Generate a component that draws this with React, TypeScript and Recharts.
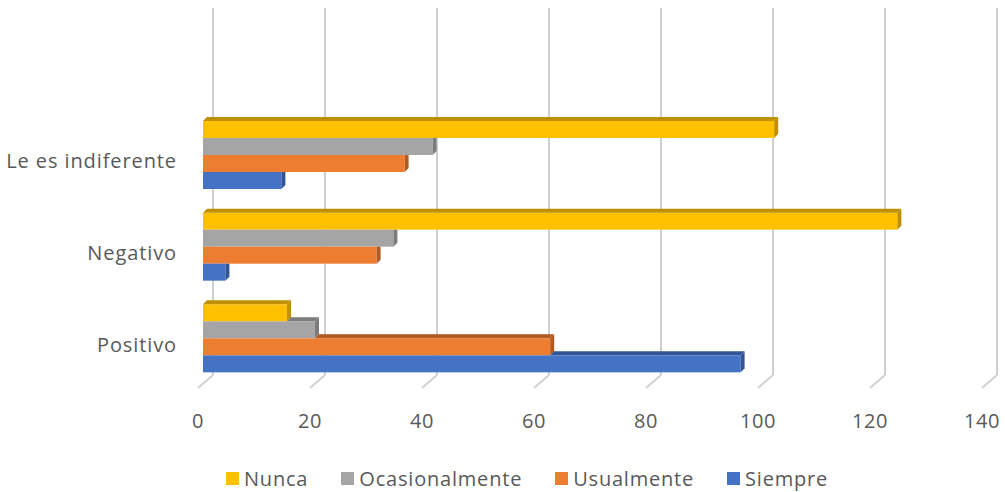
import React from "react";
import { BarChart, Bar, XAxis, YAxis, CartesianGrid } from "recharts";

const categories = ["Le es indiferente", "Negativo", "Positivo"];
const nunca = [102, 124, 15];
const ocasionalmente = [41, 34, 20];
const usualmente = [36, 31, 62];
const siempre = [14, 4, 96];
const xTicks = [0, 20, 40, 60, 80, 100, 120, 140];

const series = [
  { key: "Nunca", values: nunca, color: "#FFC000", dark: "#BF9000" },
  { key: "Ocasionalmente", values: ocasionalmente, color: "#A5A5A5", dark: "#7C7C7C" },
  { key: "Usualmente", values: usualmente, color: "#ED7D31", dark: "#B35A20" },
  { key: "Siempre", values: siempre, color: "#4472C4", dark: "#2F5597" },
];

const data = categories.map((name, i) => {
  const row: Record<string, any> = { name };
  series.forEach((s) => (row[s.key] = s.values[i]));
  return row;
});

// layout numbers
const CHART_W = 1005;
const CHART_H = 452;
const PLOT_LEFT = 203;
const PLOT_RIGHT = 987;
const PLOT_BOTTOM = 384;
const X_MAX = 140;
const DEPTH = 4;
const WALL = 10; // back wall offset of the gridlines
const FONT = "'Open Sans', sans-serif";
const TEXT = "#595959";

const xPos = (v: number) => PLOT_LEFT + (v / X_MAX) * (PLOT_RIGHT - PLOT_LEFT);

// 3D-ish bar: front face + top face + end face
const makeShape = (idx: number) => (props: any) => {
  const { x, y, width, height, payload } = props;
  const s = series[idx];
  const value = payload[s.key];
  if (!width || width <= 0) return <g />;
  const end = x + width;
  let topStart = x;
  let endHidden = false;
  if (idx > 0) {
    const upper = payload[series[idx - 1].key];
    const upperEnd = x + (width * upper) / value;
    topStart = Math.max(x, upperEnd);
    endHidden = upperEnd >= end + DEPTH;
  }
  const d = DEPTH;
  const endFace = endHidden
    ? `${end},${y} ${end + d},${y} ${end + d},${y + height - d} ${end},${y + height}`
    : `${end},${y} ${end + d},${y - d} ${end + d},${y + height - d} ${end},${y + height}`;
  return (
    <g>
      <rect x={x} y={y} width={width} height={height} fill={s.color} />
      {topStart < end && (
        <polygon
          points={`${topStart},${y} ${topStart + d},${y - d} ${end + d},${y - d} ${end},${y}`}
          fill={s.dark}
        />
      )}
      <polygon points={endFace} fill={s.dark} />
    </g>
  );
};

const XTick = (props: any) => {
  const { x, payload } = props;
  return (
    <g>
      <line
        x1={x + WALL}
        y1={PLOT_BOTTOM - 9}
        x2={x - 5}
        y2={PLOT_BOTTOM + 4}
        stroke="#d0d0d0"
        strokeWidth={2}
      />
      <text
        x={x - 5}
        y={423}
        textAnchor="middle"
        dominantBaseline="middle"
        fill={TEXT}
        fontSize={20}
        fontFamily={FONT}
        letterSpacing={0.5}
      >
        {payload.value}
      </text>
    </g>
  );
};

const YTick = (props: any) => {
  const { y, payload } = props;
  return (
    <text
      x={177}
      y={y + 8}
      textAnchor="end"
      dominantBaseline="middle"
      fill={TEXT}
      fontSize={20}
      fontFamily={FONT}
      letterSpacing={0.9}
    >
      {payload.value}
    </text>
  );
};

export default function App() {
  return (
    <div style={{ position: "absolute", left: 0, top: 0, width: CHART_W, height: 492, background: "#fff" }}>
      <BarChart
        width={CHART_W}
        height={CHART_H}
        data={data}
        layout="vertical"
        margin={{ top: 5, right: CHART_W - PLOT_RIGHT, bottom: 0, left: 0 }}
        barSize={17}
        barGap={0}
      >
        <CartesianGrid
          horizontal={false}
          verticalPoints={xTicks.map((t) => xPos(t) + WALL)}
          y={8}
          height={PLOT_BOTTOM - 9 - 8}
          stroke="#cfcfcf"
          strokeWidth={2}
        />
        <XAxis
          type="number"
          domain={[0, X_MAX]}
          ticks={xTicks}
          axisLine={false}
          tickLine={false}
          height={CHART_H - PLOT_BOTTOM}
          tick={<XTick />}
          interval={0}
        />
        <YAxis
          type="category"
          dataKey="name"
          width={PLOT_LEFT}
          axisLine={false}
          tickLine={false}
          padding={{ top: 104, bottom: 0 }}
          tick={<YTick />}
        />
        {series.map((s, i) => (
          <Bar
            key={s.key}
            dataKey={s.key}
            fill={s.color}
            shape={makeShape(i)}
            isAnimationActive={false}
          />
        ))}
      </BarChart>

      {/* Legend */}
      <div
        style={{
          position: "absolute",
          left: 226,
          top: 465,
          display: "flex",
          alignItems: "center",
          fontFamily: FONT,
          fontSize: 20,
          letterSpacing: 0.8,
          color: TEXT,
        }}
      >
        {series.map((s) => (
          <div key={s.key} style={{ display: "flex", alignItems: "center", marginRight: 33 }}>
            <span style={{ width: 13, height: 13, background: s.color, marginRight: 5, display: "inline-block" }} />
            <span>{s.key}</span>
          </div>
        ))}
      </div>
    </div>
  );
}
